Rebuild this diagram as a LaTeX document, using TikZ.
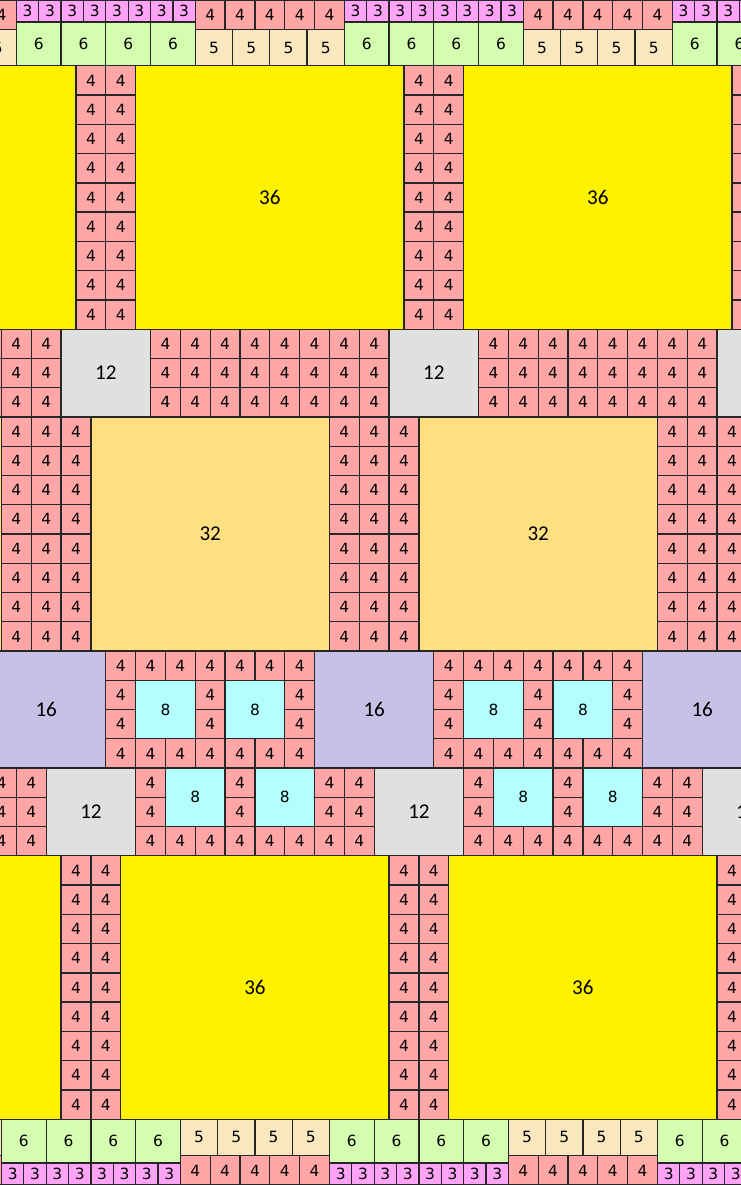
\documentclass[tikz,border=0pt]{standalone}
\usepackage{fontspec}
\setmainfont{DejaVu Sans}
\newfontfamily\bigfont{Carlito}
\usepackage{xcolor}

\definecolor{c3}{HTML}{FFA3F6}
\definecolor{c4}{HTML}{FFA6A6}
\definecolor{c5}{HTML}{F9E8BF}
\definecolor{c6}{HTML}{D4FDB0}
\definecolor{c8}{HTML}{B3FFFF}
\definecolor{c12}{HTML}{E0E0E0}
\definecolor{c16}{HTML}{C8C0E6}
\definecolor{c32}{HTML}{FFE080}
\definecolor{c36}{HTML}{FFF200}

\tikzset{
  tile/.style={draw=black!85, line width=0.5pt},
  small/.style={inner sep=0pt, font=\fontsize{6}{6}\selectfont},
  big/.style={inner sep=0pt, font=\bigfont\fontsize{8.2}{8}\selectfont},
  lbl3/.style={small}, lbl4/.style={small}, lbl5/.style={small},
  lbl6/.style={small}, lbl8/.style={small},
  lbl12/.style={big}, lbl16/.style={big}, lbl32/.style={big}, lbl36/.style={big}
}

% square of side #3 with top left corner at (#1,#2)
\newcommand{\tile}[3]{%
  \draw[tile, fill=c#3] (#1,#2) rectangle ++(#3,#3);
  \node[lbl#3] (t#1-#2) at (#1+#3/2,#2+#3/2) {#3};}

\begin{document}
\begin{tikzpicture}[x={(0.10191cm,0)}, y={(0,-0.1cm)}]
  \useasboundingbox (-8.2,0) rectangle (91.2,162);
  \clip (-8.2,0) rectangle (91.2,162);
  \foreach \k in {-1,0,1,2}{
    % top strip
    \foreach \i in {0,...,7}{\pgfmathtruncatemacro\x{44*\k-6+3*\i}\tile{\x}{0}{3}}
    \foreach \i in {0,...,4}{\pgfmathtruncatemacro\x{44*\k+18+4*\i}\tile{\x}{0}{4}}
    \foreach \i in {0,...,3}{\pgfmathtruncatemacro\x{44*\k-6+6*\i}\tile{\x}{3}{6}}
    \foreach \i in {0,...,3}{\pgfmathtruncatemacro\x{44*\k+18+5*\i}\tile{\x}{4}{5}}
    % upper 36 band
    \pgfmathtruncatemacro\x{44*\k+10}\tile{\x}{9}{36}
    \foreach \i in {0,1}{\foreach \j in {0,...,8}{%
      \pgfmathtruncatemacro\x{44*\k+2+4*\i}\pgfmathtruncatemacro\y{9+4*\j}\tile{\x}{\y}{4}}}
    % 12 band
    \pgfmathtruncatemacro\x{44*\k}\tile{\x}{45}{12}
    \foreach \i in {0,...,7}{\foreach \j in {0,...,2}{%
      \pgfmathtruncatemacro\x{44*\k+12+4*\i}\pgfmathtruncatemacro\y{45+4*\j}\tile{\x}{\y}{4}}}
    % 32 band
    \pgfmathtruncatemacro\x{44*\k+4}\tile{\x}{57}{32}
    \foreach \i in {0,...,2}{\foreach \j in {0,...,7}{%
      \pgfmathtruncatemacro\x{44*\k-8+4*\i}\pgfmathtruncatemacro\y{57+4*\j}\tile{\x}{\y}{4}}}
    % 16 band
    \pgfmathtruncatemacro\x{44*\k-10}\tile{\x}{89}{16}
    \foreach \i in {0,...,6}{\pgfmathtruncatemacro\x{44*\k+6+4*\i}\tile{\x}{89}{4}\tile{\x}{101}{4}}
    \foreach \i in {0,...,2}{\pgfmathtruncatemacro\x{44*\k+6+12*\i}\tile{\x}{93}{4}\tile{\x}{97}{4}}
    \foreach \i in {0,1}{\pgfmathtruncatemacro\x{44*\k+10+12*\i}\tile{\x}{93}{8}}
    % lower 12 band
    \pgfmathtruncatemacro\x{44*\k-2}\tile{\x}{105}{12}
    \foreach \i in {0,1}{\pgfmathtruncatemacro\x{44*\k+10+12*\i}\tile{\x}{105}{4}\tile{\x}{109}{4}}
    \foreach \i in {0,1}{\pgfmathtruncatemacro\x{44*\k+14+12*\i}\tile{\x}{105}{8}}
    \foreach \i in {0,...,5}{\pgfmathtruncatemacro\x{44*\k+10+4*\i}\tile{\x}{113}{4}}
    \foreach \i in {0,1}{\foreach \j in {0,...,2}{%
      \pgfmathtruncatemacro\x{44*\k+34+4*\i}\pgfmathtruncatemacro\y{105+4*\j}\tile{\x}{\y}{4}}}
    % lower 36 band
    \pgfmathtruncatemacro\x{44*\k+8}\tile{\x}{117}{36}
    \foreach \i in {0,1}{\foreach \j in {0,...,8}{%
      \pgfmathtruncatemacro\x{44*\k+4*\i}\pgfmathtruncatemacro\y{117+4*\j}\tile{\x}{\y}{4}}}
    % bottom strip
    \foreach \i in {0,...,3}{\pgfmathtruncatemacro\x{44*\k-8+6*\i}\tile{\x}{153}{6}}
    \foreach \i in {0,...,7}{\pgfmathtruncatemacro\x{44*\k-8+3*\i}\tile{\x}{159}{3}}
    \foreach \i in {0,...,3}{\pgfmathtruncatemacro\x{44*\k+16+5*\i}\tile{\x}{153}{5}}
    \foreach \i in {0,...,4}{\pgfmathtruncatemacro\x{44*\k+16+4*\i}\tile{\x}{158}{4}}
  }
\end{tikzpicture}
\end{document}
